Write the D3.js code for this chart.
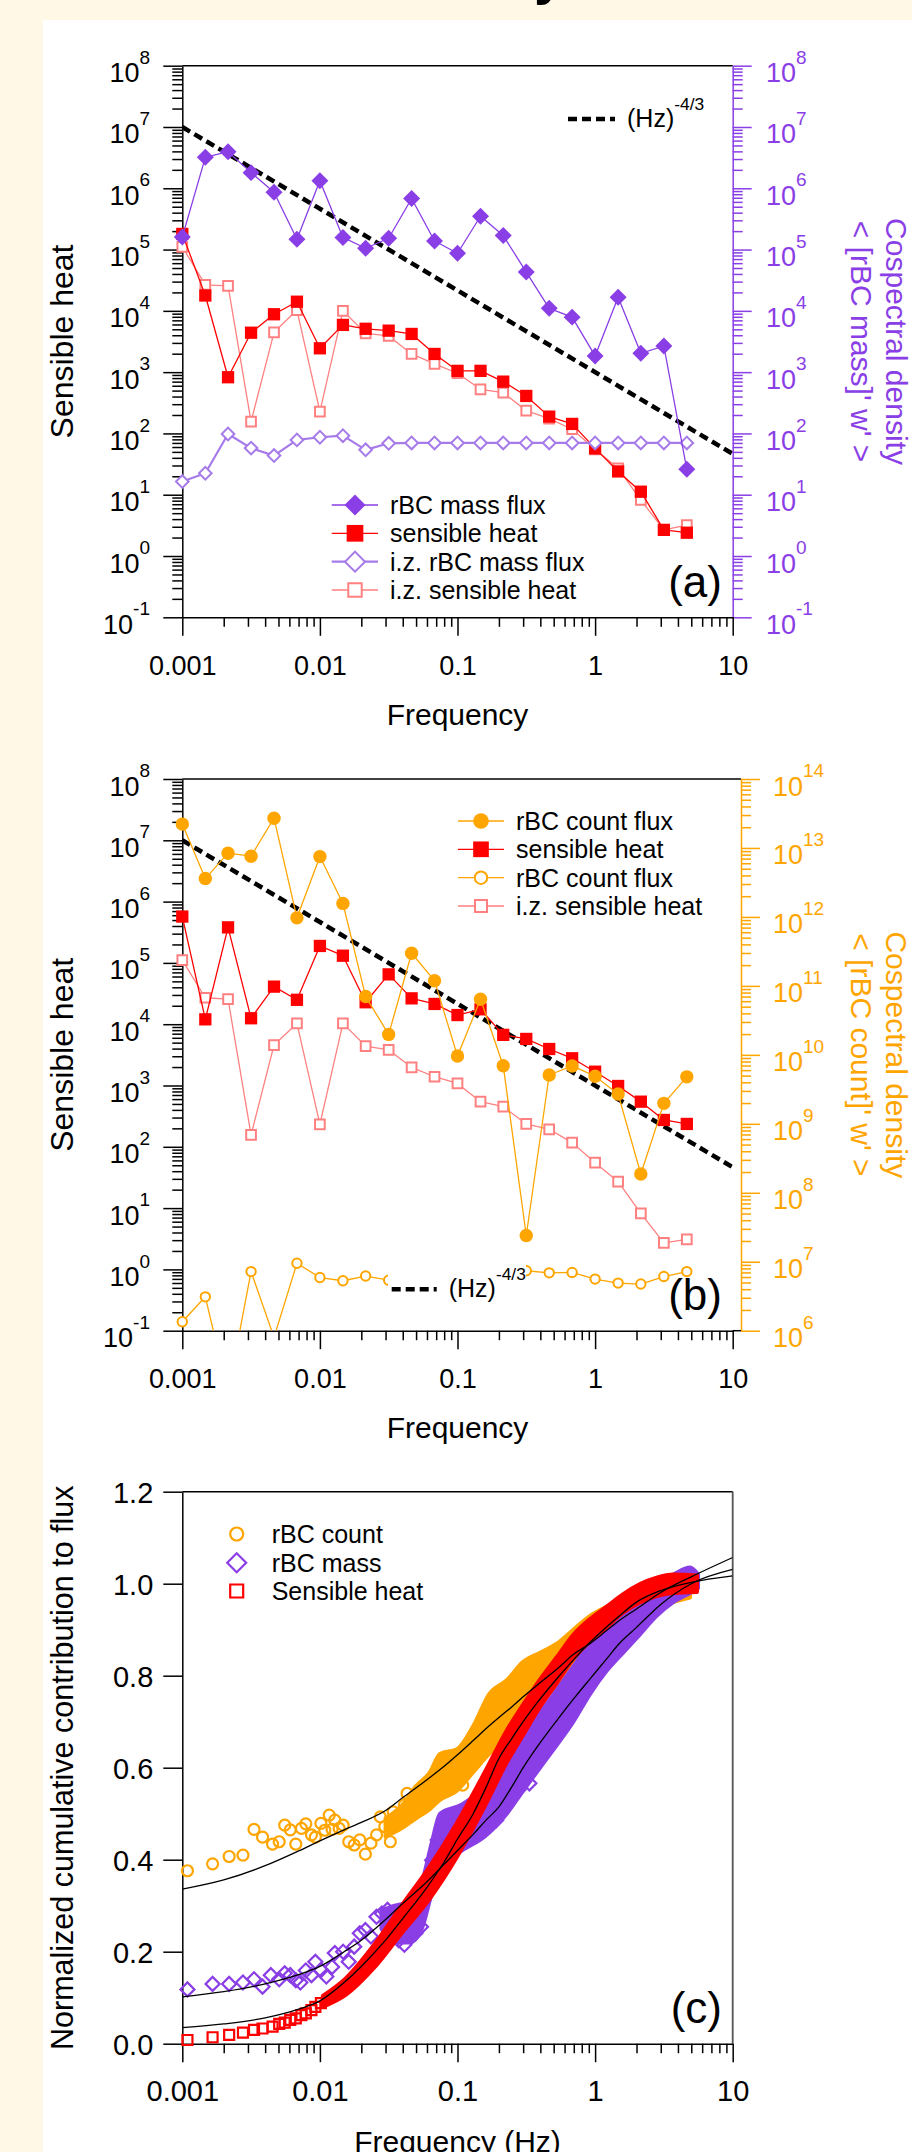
<!DOCTYPE html>
<html><head><meta charset="utf-8">
<script src="https://cdn.jsdelivr.net/npm/d3@7/dist/d3.min.js"></script>
<style>
html,body{margin:0;padding:0;background:#fff8e6;}
svg{display:block;}
text{font-family:"Liberation Sans",Arial,Helvetica,sans-serif;}
</style></head><body>
<script>
// ================= DATA =================
const freq = [0.001,0.00147,0.00215,0.00316,0.00464,0.00681,0.01,0.0147,0.0215,0.0316,0.0464,0.0681,0.1,0.147,0.215,0.316,0.464,0.681,1,1.47,2.15,3.16,4.64];
const xTickVals = [0.001,0.01,0.1,1,10];
const xTickLabels = ['0.001','0.01','0.1','1','10'];
const yTickC = [0,0.2,0.4,0.6,0.8,1.0,1.2];
const yTickLabelsC = ['0.0','0.2','0.4','0.6','0.8','1.0','1.2'];

// panel (a)
const massFlux = [1.6e5,3.2e6,3.95e6,1.8e6,8.6e5,1.47e5,1.33e6,1.58e5,1.05e5,1.53e5,6.8e5,1.38e5,8.7e4,3.5e5,1.69e5,4.3e4,1.1e4,7.9e3,1.84e3,1.67e4,2.03e3,2.67e3,26];
const heatA = [1.8e5,1.78e4,826,4.4e3,8.8e3,1.41e4,2.45e3,5.9e3,5.1e3,4.75e3,4.2e3,1.98e3,1.05e3,1.05e3,700,409,188,143,57,24,11.2,2.67,2.4];
const izMass = [16.4,22.4,98,57.6,43.5,78.5,86.7,92,54,69,70,70,70,70,70,70,70,70,70,70,70,70,70];
const izHeatA = [1.11e5,2.65e4,2.55e4,156,4.47e3,1.03e4,227,1.0e4,4.3e3,3.9e3,1.98e3,1.36e3,960,525,462,235,175,117,55,27,8.2,2.67,3.2];
const powerF = [0.001,10];
const powerV = [1e7,46.4];

// panel (b)
const countFlux = [2.22e13,3.6e12,8.4e12,7.6e12,2.7e13,9.7e11,7.5e12,1.57e12,7.0e10,1.98e10,2.97e11,1.19e11,9.6e9,6.4e10,6.96e9,2.4e7,5.1e9,6.9e9,4.9e9,2.7e9,1.87e8,1.98e9,4.8e9];
const heatB = [5.7e5,1.2e4,3.8e5,1.25e4,4.1e4,2.5e4,1.89e5,1.31e5,2.28e4,6.5e4,2.64e4,2.14e4,1.41e4,1.75e4,6.7e3,5.75e3,3.94e3,2.78e3,1.68e3,982,545,274,236];
const izCount = [1.35e6,3.1e6,1.26e5,7.2e6,8e5,9.5e6,5.9e6,5.3e6,6.2e6,5.4e6,5.2e6,5.0e6,5.5e6,6.0e6,6.5e6,7.4e6,6.9e6,7.0e6,5.6e6,4.9e6,4.75e6,6.1e6,7.2e6];
const izHeatB = [1.11e5,2.7e4,2.57e4,156,4.57e3,1.03e4,233,1.03e4,4.4e3,3.8e3,1.98e3,1.39e3,1.08e3,545,451,236,193,117,55,27,8.2,2.7,3.1];

// panel (c) scattered low-frequency points
const countLowF = [0.00109,0.00166,0.00219,0.00276,0.00332,0.00383,0.00453,0.00506,0.00555,0.00609,0.00668,0.00734,0.0079,0.00868,0.00927,0.01017,0.01086,0.01169,0.01226,0.01284,0.0138,0.01475,0.0162,0.01775,0.0195,0.0214,0.0235,0.0258,0.0275,0.0296,0.0325,0.0341,0.0374,0.0411,0.043,0.0472,0.0518,0.0569,0.0624,0.0685,0.0906,0.109];
const countLowV = [0.376,0.391,0.407,0.41,0.466,0.449,0.434,0.439,0.475,0.465,0.434,0.468,0.478,0.454,0.449,0.479,0.464,0.497,0.466,0.486,0.468,0.475,0.439,0.432,0.443,0.412,0.436,0.454,0.493,0.472,0.439,0.504,0.479,0.519,0.544,0.501,0.53,0.552,0.566,0.537,0.57,0.562];
const massLowF = [0.00109,0.00166,0.00219,0.00276,0.00332,0.00383,0.0044,0.00506,0.00555,0.00609,0.00668,0.00721,0.0079,0.00868,0.00927,0.01017,0.01114,0.01226,0.01284,0.01475,0.0162,0.01775,0.0195,0.0214,0.0235,0.0258,0.0282,0.031,0.0341,0.0374,0.0411,0.0451,0.0494,0.0543,0.0596,0.0654,0.0718,0.0787,0.0864,0.0948,0.109,0.131,0.158,0.191,0.23,0.277,0.333];
const massLowV = [0.118,0.13,0.13,0.133,0.14,0.124,0.149,0.14,0.153,0.149,0.138,0.133,0.159,0.149,0.178,0.16,0.146,0.167,0.197,0.2,0.178,0.211,0.24,0.247,0.233,0.276,0.283,0.291,0.269,0.225,0.215,0.298,0.24,0.254,0.334,0.399,0.443,0.472,0.407,0.45,0.479,0.501,0.472,0.486,0.53,0.552,0.566];
const heatLowF = [0.00109,0.00166,0.00219,0.00276,0.00332,0.00383,0.00453,0.00506,0.00555,0.00609,0.00668,0.00734,0.0079,0.00868,0.00927,0.01017];
const heatLowV = [0.008,0.014,0.019,0.024,0.03,0.033,0.037,0.043,0.046,0.052,0.055,0.062,0.066,0.073,0.08,0.088];

// panel (c) dense high-frequency point clouds (lower / upper envelope)
const countBandF  = [0.03,0.04,0.05,0.063,0.0746,0.099,0.13,0.17,0.228,0.30,0.398,0.53,0.695,0.918,1.21,2.12,3.7,4.9];
const countBandLo = [0.45,0.47,0.49,0.51,0.53,0.55,0.59,0.63,0.66,0.70,0.74,0.78,0.82,0.85,0.88,0.93,0.96,0.97];
const countBandHi = [0.49,0.52,0.56,0.59,0.63,0.64,0.69,0.76,0.79,0.83,0.85,0.87,0.90,0.93,0.95,0.98,1.0,1.0];
const massBandF  = [0.028,0.035,0.045,0.055,0.0654,0.0746,0.108,0.157,0.228,0.30,0.398,0.53,0.695,0.918,1.21,1.6,2.12,2.8,3.7,4.9,5.6];
const massBandLo = [0.25,0.22,0.22,0.25,0.33,0.38,0.42,0.45,0.50,0.55,0.60,0.65,0.70,0.76,0.81,0.85,0.89,0.93,0.96,0.98,0.99];
const massBandHi = [0.29,0.30,0.31,0.35,0.44,0.50,0.52,0.56,0.62,0.68,0.72,0.77,0.82,0.87,0.91,0.95,0.98,1.0,1.02,1.035,1.02];
const heatBandF  = [0.0105,0.0154,0.0246,0.039,0.0624,0.099,0.157,0.228,0.30,0.398,0.526,0.695,0.918,1.213,1.6,2.12,2.8,3.7,5.5];
const heatBandLo = [0.080,0.106,0.164,0.239,0.314,0.406,0.515,0.611,0.671,0.732,0.784,0.837,0.875,0.906,0.937,0.959,0.973,0.98,0.982];
const heatBandHi = [0.104,0.142,0.214,0.299,0.384,0.480,0.589,0.681,0.737,0.792,0.840,0.889,0.923,0.950,0.977,0.999,1.013,1.02,1.018];

// panel (c) fitted curves
const fitF = [0.001,0.002,0.004,0.007,0.01,0.015,0.02,0.03,0.04,0.06,0.08,0.1,0.13,0.16,0.2,0.25,0.3,0.4,0.55,0.7,0.9,1.2,1.5,2,3,5,10];
const fitCount = [0.336,0.356,0.387,0.419,0.441,0.465,0.481,0.507,0.535,0.574,0.603,0.628,0.659,0.684,0.709,0.733,0.754,0.785,0.819,0.847,0.868,0.897,0.920,0.945,0.981,1.015,1.057];
const fitMass  = [0.102,0.113,0.13,0.15,0.168,0.2,0.225,0.27,0.305,0.352,0.39,0.42,0.455,0.485,0.515,0.56,0.60,0.655,0.71,0.75,0.79,0.835,0.87,0.905,0.955,1.0,1.031];
const fitHeat  = [0.035,0.043,0.056,0.075,0.093,0.133,0.168,0.225,0.272,0.34,0.395,0.445,0.50,0.555,0.62,0.665,0.70,0.75,0.80,0.835,0.87,0.905,0.93,0.96,0.985,1.003,1.017];

// ================= STYLE / LAYOUT =================
const PURPLE='#8a3ee6', LPURPLE='#a67be9', RED='#ff0000', PINK='#ff8080', ORANGE='#ffa500';
const W=912, H=2152;
const XL=182.3, XR=732.7;
const PA={top:65.7, bot:617.3}, PB={top:779, bot:1330.7}, PC={top:1491.7, bot:2043.7};

const svg=d3.select('body').append('svg').attr('width',W).attr('height',H);
svg.append('rect').attr('width',W).attr('height',H).attr('fill','#fff8e6');
// descender of the page heading that is cut off above the picture
svg.append('text').attr('x',534).attr('y',-7).attr('font-size',56).attr('font-weight','bold').attr('fill','#000').text('y');
svg.append('rect').attr('x',43).attr('y',20).attr('width',W-43).attr('height',H-20).attr('fill','#ffffff');

const x=d3.scaleLog().domain([0.001,10]).range([XL,XR]);
const yA=d3.scaleLog().domain([0.1,1e8]).range([PA.bot,PA.top]);
const yB=d3.scaleLog().domain([0.1,1e8]).range([PB.bot,PB.top]);
const yB2=d3.scaleLog().domain([1e6,1e14]).range([PB.bot,PB.top]);
const yC=d3.scaleLinear().domain([0,1.2]).range([PC.bot,PC.top]);

function logTicks(lo,hi){const maj=[],min=[];for(let e=lo;e<=hi;e++){maj.push(+('1e'+e));if(e<hi)for(let m=2;m<=9;m++)min.push(+(m+'e'+e));}return {maj,min};}

function drawLogY(scale,side,xPos,lo,hi,color,labelX,anchor){
  const t=logTicks(lo,hi);
  const mk=side==='left'?d3.axisLeft:d3.axisRight;
  const a=svg.append('g').attr('transform',`translate(${xPos},0)`);
  a.append('g').call(mk(scale).tickValues(t.min).tickSize(10).tickSizeOuter(0).tickFormat('')).call(s=>s.select('.domain').remove());
  const M=a.append('g').call(mk(scale).tickValues(t.maj).tickSize(19).tickSizeOuter(0).tickFormat(''));
  a.selectAll('line,path').attr('stroke',color).attr('stroke-width',1.5);
  M.selectAll('.tick text').remove();
  M.selectAll('.tick').append('text').attr('x',labelX).attr('y',16).attr('text-anchor',anchor)
    .attr('fill',color).attr('font-size',27)
    .each(function(d){const e=Math.round(Math.log10(d));const s=d3.select(this);
      s.append('tspan').text('10');s.append('tspan').attr('dy',-18.4).attr('font-size',19).text(e);});
}
function drawLogX(yPos,fs,extendTo){
  const t=logTicks(-3,1);
  const a=svg.append('g').attr('transform',`translate(0,${yPos})`);
  a.append('g').call(d3.axisBottom(x).tickValues(t.min).tickSize(9.5).tickSizeOuter(0).tickFormat('')).call(s=>s.select('.domain').remove());
  const M=a.append('g').call(d3.axisBottom(x).tickValues(xTickVals).tickSize(18.5).tickSizeOuter(0).tickFormat((d,i)=>xTickLabels[i]));
  M.selectAll('.tick text').attr('y',57.7).attr('dy',null).attr('font-size',fs).attr('fill','#000');
  if(extendTo) a.append('line').attr('x1',XR).attr('x2',extendTo).attr('y1',0).attr('y2',0);
  a.selectAll('line,path').attr('stroke','#000').attr('stroke-width',1.5);
}
function hline(x1,x2,y,color){svg.append('line').attr('x1',x1).attr('x2',x2).attr('y1',y).attr('y2',y).attr('stroke',color||'#000').attr('stroke-width',1.5);}
function vline(xp,y1,y2,color,w){svg.append('line').attr('x1',xp).attr('x2',xp).attr('y1',y1).attr('y2',y2).attr('stroke',color||'#000').attr('stroke-width',w||1.5);}

function clip(id,top,bot,right){
  svg.append('clipPath').attr('id',id).append('rect').attr('x',XL).attr('y',top).attr('width',(right||XR)-XL).attr('height',bot-top);
}
function markers(g,xy,o){
  const type=o.shape==='circle'?d3.symbolCircle:d3.symbolSquare;
  g.append('g').selectAll('path').data(xy).join('path')
    .attr('transform',d=>`translate(${d[0]},${d[1]})${o.shape==='diamond'?' rotate(45)':''}`)
    .attr('d',d3.symbol().type(type).size(o.size))
    .attr('fill',o.filled?o.color:(o.bg||'none'))
    .attr('stroke',o.filled?'none':o.color)
    .attr('stroke-width',o.sw||2);
}
function series(g,clipId,xs,ys,ys_scale,o){
  const dom=ys_scale.domain();
  const pts=xs.map((f,i)=>[f,ys[i]]);
  g.append('path').datum(pts).attr('clip-path',`url(#${clipId})`).attr('fill','none').attr('stroke',o.color)
    .attr('stroke-width',o.lw||1.3).attr('stroke-linejoin','round')
    .attr('d',d3.line().x(d=>x(d[0])).y(d=>ys_scale(d[1])));
  markers(g,pts.filter(d=>d[1]>=dom[0]&&d[1]<=dom[1]).map(d=>[x(d[0]),ys_scale(d[1])]),o);
}
function dashedPower(g,clipId,ys_scale){
  g.append('path').datum(powerF.map((f,i)=>[f,powerV[i]])).attr('clip-path',`url(#${clipId})`)
    .attr('fill','none').attr('stroke','#000').attr('stroke-width',4.5).attr('stroke-dasharray','9,5')
    .attr('d',d3.line().x(d=>x(d[0])).y(d=>ys_scale(d[1])));
}
function legendRow(g,mx,lx1,lx2,tx,y,label,o,lw){
  if(lx1!=null) g.append('line').attr('x1',lx1).attr('x2',lx2).attr('y1',y).attr('y2',y).attr('stroke',o.color).attr('stroke-width',lw||1.3);
  markers(g,[[mx,y]],o);
  g.append('text').attr('x',tx).attr('y',y+9).attr('font-size',25).attr('fill','#000').text(label);
}
function powerLegend(g,x1,x2,y){
  g.append('line').attr('x1',x1).attr('x2',x2).attr('y1',y).attr('y2',y).attr('stroke','#000').attr('stroke-width',4.5).attr('stroke-dasharray','9,5');
  const t=g.append('text').attr('x',x2+12).attr('y',y+7.5).attr('font-size',25).attr('fill','#000');
  t.append('tspan').text('(Hz)');
  t.append('tspan').attr('dy',-16.5).attr('font-size',17.4).text('-4/3');
}
function ytitle(txt,cy,fs,xb){svg.append('text').attr('transform',`translate(${xb},${cy}) rotate(-90)`).attr('text-anchor','middle').attr('font-size',fs).attr('fill','#000').text(txt);}
function rtitle(l1,l2,cy,color){
  svg.append('text').attr('transform',`translate(886,${cy}) rotate(90)`).attr('text-anchor','middle').attr('font-size',30).attr('fill',color).text(l1);
  svg.append('text').attr('transform',`translate(851,${cy}) rotate(90)`).attr('text-anchor','middle').attr('font-size',30).attr('fill',color).text(l2);
}
function xtitle(txt,yb){svg.append('text').attr('x',(XL+XR)/2).attr('y',yb).attr('text-anchor','middle').attr('font-size',30).attr('fill','#000').text(txt);}
function panelLabel(txt,bot){svg.append('text').attr('x',722).attr('y',bot-20.5).attr('text-anchor','end').attr('font-size',44).attr('fill','#000').text(txt);}

// ================= PANEL (a) =================
clip('clipA',PA.top,PA.bot);
hline(XL,XR,PA.top);
drawLogY(yA,'left',XL,-1,8,'#000',-32.3,'end');
drawLogY(yA,'right',XR,-1,8,PURPLE,33.3,'start');
drawLogX(PA.bot,27);
const gA=svg.append('g');
dashedPower(gA,'clipA',yA);
series(gA,'clipA',freq,izHeatA,yA,{color:PINK,shape:'square',size:94,bg:'#fff',sw:2,lw:1.3});
series(gA,'clipA',freq,heatA,yA,{color:RED,shape:'square',size:151,filled:true,lw:1.3});
series(gA,'clipA',freq,izMass,yA,{color:LPURPLE,shape:'diamond',size:80,bg:'#fff',sw:2,lw:2.2});
series(gA,'clipA',freq,massFlux,yA,{color:PURPLE,shape:'diamond',size:144,filled:true,lw:1.3});
const lgA=svg.append('g');
legendRow(lgA,355,331.7,378,390,505,'rBC mass flux',{color:PURPLE,shape:'diamond',size:220,filled:true});
legendRow(lgA,355,331.7,378,390,533.3,'sensible heat',{color:RED,shape:'square',size:279,filled:true});
legendRow(lgA,355,331.7,378,390,561.7,'i.z. rBC mass flux',{color:LPURPLE,shape:'diamond',size:200,bg:'#fff',sw:2},2.2);
legendRow(lgA,355,331.7,378,390,590,'i.z. sensible heat',{color:PINK,shape:'square',size:180,bg:'#fff',sw:2});
powerLegend(lgA,568,615,119);
ytitle('Sensible heat',(PA.top+PA.bot)/2,32,72.5);
rtitle('Cospectral density',"< [rBC mass]' w' >",(PA.top+PA.bot)/2,PURPLE);
xtitle('Frequency',725);
panelLabel('(a)',PA.bot);

// ================= PANEL (b) =================
const XRB=741;
clip('clipB',PB.top,PB.bot);
hline(XL,XRB,PB.top);
drawLogY(yB,'left',XL,-1,8,'#000',-32.3,'end');
drawLogY(yB2,'right',XRB,6,14,ORANGE,32,'start');
drawLogX(PB.bot,27,XRB);
const gB=svg.append('g');
dashedPower(gB,'clipB',yB);
series(gB,'clipB',freq,izHeatB,yB,{color:PINK,shape:'square',size:94,bg:'#fff',sw:2,lw:1.3});
series(gB,'clipB',freq,izCount,yB2,{color:ORANGE,shape:'circle',size:69,bg:'#fff',sw:2,lw:1.3});
series(gB,'clipB',freq,heatB,yB,{color:RED,shape:'square',size:151,filled:true,lw:1.3});
series(gB,'clipB',freq,countFlux,yB2,{color:ORANGE,shape:'circle',size:141,filled:true,lw:1.3});
const lgB=svg.append('g');
legendRow(lgB,481,458,504,516,821,'rBC count flux',{color:ORANGE,shape:'circle',size:191,filled:true});
legendRow(lgB,481,458,504,516,849.3,'sensible heat',{color:RED,shape:'square',size:246,filled:true});
legendRow(lgB,481,458,504,516,877.7,'rBC count flux',{color:ORANGE,shape:'circle',size:121,bg:'#fff',sw:2});
legendRow(lgB,481,458,504,516,906,'i.z. sensible heat',{color:PINK,shape:'square',size:144,bg:'#fff',sw:2});
lgB.append('rect').attr('x',388).attr('y',1258).attr('width',138).attr('height',56).attr('fill','#fff');
powerLegend(lgB,391.7,436.7,1289.3);
ytitle('Sensible heat',(PB.top+PB.bot)/2,32,72.5);
rtitle('Cospectral density',"< [rBC count]' w' >",(PB.top+PB.bot)/2,ORANGE);
xtitle('Frequency',1438);
panelLabel('(b)',PB.bot);

// ================= PANEL (c) =================
clip('clipC',PC.top,PC.bot);
hline(XL,XR,PC.top);
vline(XR,PC.top,PC.bot,'#555',1.8);
{
  const a=svg.append('g').attr('transform',`translate(${XL},0)`);
  const M=a.append('g').call(d3.axisLeft(yC).tickValues(yTickC).tickSize(19).tickSizeOuter(0).tickFormat((d,i)=>yTickLabelsC[i]));
  M.selectAll('.tick text').attr('x',-29).attr('dy','0.36em').attr('font-size',29).attr('fill','#000');
  a.selectAll('line,path').attr('stroke','#000').attr('stroke-width',1.5);
}
drawLogX(PC.bot,29);
const gC=svg.append('g');
function band(F,Lo,Hi,color){
  const d=F.map((f,i)=>[f,Lo[i],Hi[i]]);
  gC.append('path').datum(d).attr('fill',color).attr('stroke',color).attr('stroke-width',4).attr('stroke-linejoin','round')
    .attr('d',d3.area().x(v=>x(v[0])).y0(v=>yC(v[1])).y1(v=>yC(v[2])).curve(d3.curveMonotoneX));
}
function cpts(F,V,o){markers(gC,F.map((f,i)=>[x(f),yC(V[i])]),o);}
band(countBandF,countBandLo,countBandHi,ORANGE);
cpts(countLowF,countLowV,{color:ORANGE,shape:'circle',size:95,sw:2.2});
band(massBandF,massBandLo,massBandHi,PURPLE);
cpts(massLowF,massLowV,{color:PURPLE,shape:'diamond',size:98,sw:2.2});
band(heatBandF,heatBandLo,heatBandHi,RED);
cpts(heatLowF,heatLowV,{color:RED,shape:'square',size:100,sw:2.2});
[fitCount,fitMass,fitHeat].forEach(fv=>{
  gC.append('path').datum(fitF.map((f,i)=>[f,fv[i]])).attr('clip-path','url(#clipC)').attr('fill','none')
    .attr('stroke','#000').attr('stroke-width',1.3)
    .attr('d',d3.line().x(d=>x(d[0])).y(d=>yC(d[1])).curve(d3.curveMonotoneX));
});
const lgC=svg.append('g');
legendRow(lgC,236.7,null,null,271.7,1534,'rBC count',{color:ORANGE,shape:'circle',size:133,sw:2.2});
legendRow(lgC,236.7,null,null,271.7,1562.7,'rBC mass',{color:PURPLE,shape:'diamond',size:180,sw:2.2});
legendRow(lgC,236.7,null,null,271.7,1591,'Sensible heat',{color:RED,shape:'square',size:169,sw:2.2});
ytitle('Normalized cumulative contribution to flux',(PC.top+PC.bot)/2,30.5,72.5);
xtitle('Frequency (Hz)',2151.5);
panelLabel('(c)',PC.bot);
</script>
</body></html>
